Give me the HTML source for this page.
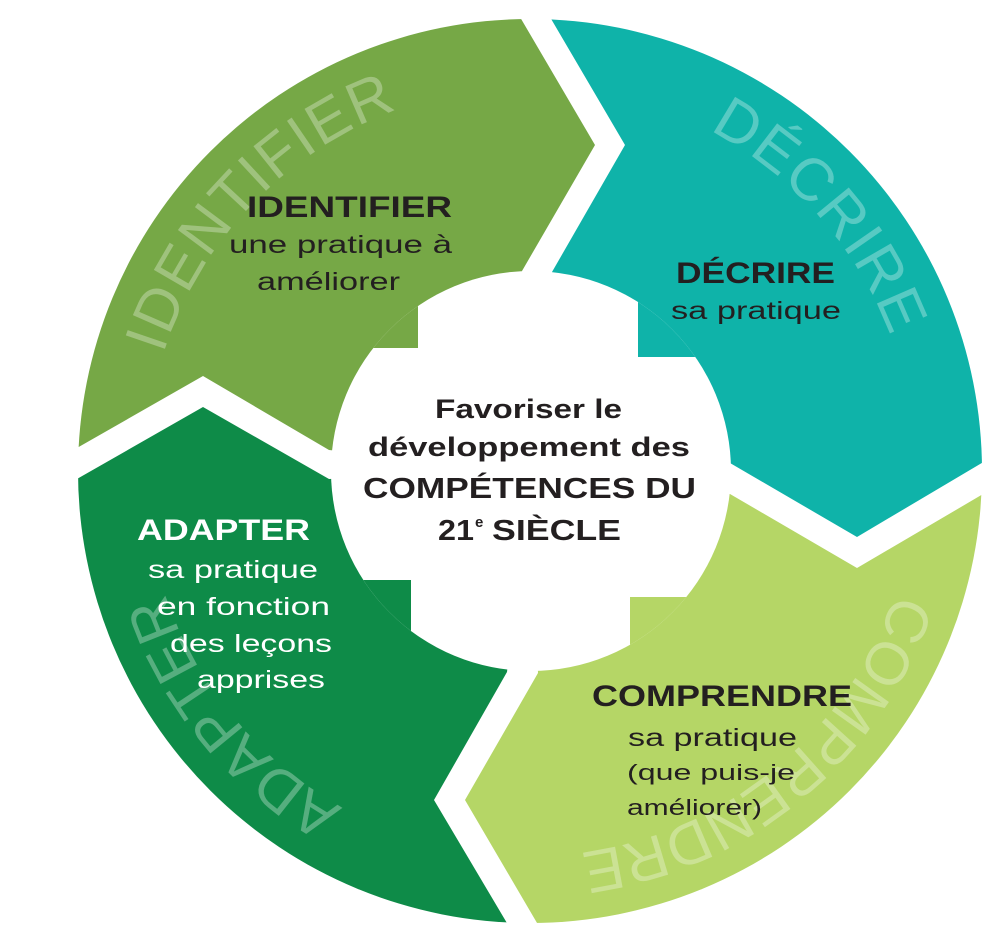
<!DOCTYPE html>
<html><head><meta charset="utf-8"><style>
html,body{margin:0;padding:0;background:#fff;}
svg{display:block;}
text{font-family:"Liberation Sans",sans-serif;}
</style></head><body>
<svg width="1007" height="940" viewBox="0 0 1007 940" xmlns="http://www.w3.org/2000/svg">
<defs>
<clipPath id="outer"><circle cx="530" cy="471" r="452"/></clipPath>
<clipPath id="inner"><circle cx="531" cy="471" r="200"/></clipPath>
<path id="arc" d="M 915 471 A 385 385 0 1 1 145 471 A 385 385 0 1 1 915 471" fill="none"/>
</defs>
<g clip-path="url(#outer)">
<polygon fill="#76a846" points="0,0 510,0 595,145 522,271 531,471 329,450 203,376 0,492"/>
<polygon fill="#0fb3a9" points="540,0 1007,0 1007,448 857,537 730,463 531,471 552,272 625,145"/>
<polygon fill="#b5d666" points="730,494 857,568 1007,480 1007,940 547,940 465,800 538,673 531,471"/>
<polygon fill="#0e8b48" points="531,471 507,672 434,800 517,940 0,940 0,523 203,407 329,479"/>
</g>
<circle cx="531" cy="471" r="200" fill="#fff"/>
<g clip-path="url(#inner)">
<rect x="300" y="240" width="118" height="108" fill="#76a846"/>
<rect x="638" y="240" width="130" height="117" fill="#0fb3a9"/>
<rect x="630" y="597" width="140" height="130" fill="#b5d666"/>
<rect x="290" y="580" width="121" height="140" fill="#0e8b48"/>
</g>
<g fill="#fff" fill-opacity="0.3" font-size="60">
<text><textPath href="#arc" startOffset="1328" textLength="350" lengthAdjust="spacing">IDENTIFIER</textPath></text>
<text><textPath href="#arc" startOffset="2000" textLength="280" lengthAdjust="spacing">DÉCRIRE</textPath></text>
<text><textPath href="#arc" startOffset="124" textLength="430" lengthAdjust="spacing">COMPRENDRE</textPath></text>
<text><textPath href="#arc" startOffset="800" textLength="285" lengthAdjust="spacing">ADAPTER</textPath></text>
</g>
<g fill="#231f20">
<text x="247" y="217" font-size="30" font-weight="bold" textLength="205" lengthAdjust="spacingAndGlyphs">IDENTIFIER</text>
<text x="229" y="253" font-size="25" textLength="223" lengthAdjust="spacingAndGlyphs">une pratique à</text>
<text x="257" y="290" font-size="25" textLength="143" lengthAdjust="spacingAndGlyphs">améliorer</text>
<text x="676" y="283" font-size="30" font-weight="bold" textLength="159" lengthAdjust="spacingAndGlyphs">DÉCRIRE</text>
<text x="671" y="319" font-size="25" textLength="170" lengthAdjust="spacingAndGlyphs">sa pratique</text>
<text x="435" y="418" font-size="27" font-weight="bold" textLength="187" lengthAdjust="spacingAndGlyphs">Favoriser le</text>
<text x="368" y="456" font-size="27" font-weight="bold" textLength="322" lengthAdjust="spacingAndGlyphs">développement des</text>
<text x="363" y="498" font-size="29" font-weight="bold" textLength="333" lengthAdjust="spacingAndGlyphs">COMPÉTENCES DU</text>
<text x="438" y="540" font-size="29" font-weight="bold" textLength="36" lengthAdjust="spacingAndGlyphs">21</text>
<text x="475" y="527" font-size="15" font-weight="bold">e</text>
<text x="492" y="540" font-size="29" font-weight="bold" textLength="129" lengthAdjust="spacingAndGlyphs">SIÈCLE</text>
<text x="592" y="706" font-size="30" font-weight="bold" textLength="260" lengthAdjust="spacingAndGlyphs">COMPRENDRE</text>
<text x="628" y="746" font-size="25" textLength="169" lengthAdjust="spacingAndGlyphs">sa pratique</text>
<text x="627" y="780" font-size="22" textLength="168" lengthAdjust="spacingAndGlyphs">(que puis-je</text>
<text x="627" y="815" font-size="22" textLength="135" lengthAdjust="spacingAndGlyphs">améliorer)</text>
</g>
<g fill="#fff">
<text x="137" y="540" font-size="30" font-weight="bold" textLength="173" lengthAdjust="spacingAndGlyphs">ADAPTER</text>
<text x="148" y="578" font-size="25" textLength="170" lengthAdjust="spacingAndGlyphs">sa pratique</text>
<text x="157" y="615" font-size="25" textLength="173" lengthAdjust="spacingAndGlyphs">en fonction</text>
<text x="170" y="652" font-size="25" textLength="162" lengthAdjust="spacingAndGlyphs">des leçons</text>
<text x="197" y="688" font-size="25" textLength="128" lengthAdjust="spacingAndGlyphs">apprises</text>
</g>
</svg>
</body></html>
